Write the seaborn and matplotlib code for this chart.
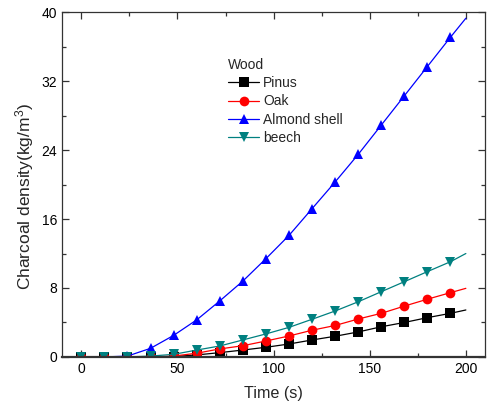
import numpy as np
import pandas as pd
import matplotlib
matplotlib.use("Agg")
import matplotlib.pyplot as plt
from matplotlib.ticker import MultipleLocator
import seaborn as sns

# Sampled times (s); the curves continue to t_end without a marker there
time_s = [0, 12, 24, 36, 48, 60, 72, 84, 96, 108, 120, 132, 144, 156, 168, 180, 192]
t_end = 200

pinus = [0, 0, 0, 0, 0.05, 0.23, 0.5, 0.8, 1.12, 1.5, 1.97, 2.4, 2.9, 3.5, 4.0, 4.56, 5.06]
oak = [0, 0, 0, 0, 0.1, 0.43, 0.93, 1.3, 1.85, 2.43, 3.1, 3.65, 4.4, 5.06, 5.9, 6.7, 7.46]
almond = [0, 0, 0.1, 1.0, 2.5, 4.3, 6.5, 8.8, 11.4, 14.1, 17.2, 20.3, 23.5, 26.9, 30.3, 33.7, 37.1]
beech = [0, 0, 0, 0.1, 0.3, 0.8, 1.27, 1.97, 2.67, 3.43, 4.37, 5.33, 6.4, 7.57, 8.73, 9.9, 11.05]
end_values = {"Pinus": 5.45, "Oak": 7.96, "Almond shell": 39.3, "beech": 12.0}

names = ["Pinus", "Oak", "Almond shell", "beech"]
series = [pinus, oak, almond, beech]
colors = ["#000000", "#ff0000", "#0000ff", "#008080"]
markers = ["s", "o", "^", "v"]

sns.set_theme(style="ticks")
plt.rcParams["font.family"] = ["Liberation Sans", "DejaVu Sans"]
plt.rcParams["mathtext.fontset"] = "custom"
plt.rcParams["mathtext.rm"] = "Liberation Sans"
plt.rcParams["mathtext.it"] = "Liberation Sans"

fig = plt.figure(figsize=(4.89, 4.07), dpi=100)
ax = fig.add_axes([0.127, 0.123, 0.865, 0.847])

for name, vals, c, m in zip(names, series, colors, markers):
    df = pd.DataFrame({"t": time_s + [t_end], "v": vals + [end_values[name]]})
    sns.lineplot(data=df, x="t", y="v", ax=ax, color=c, marker=m,
                 markevery=list(range(len(time_s))), markersize=7,
                 markeredgewidth=0, linewidth=0.9, label=name)

ax.set_xlim(-10, 210)
ax.set_ylim(0, 40)
ax.xaxis.set_major_locator(MultipleLocator(50))
ax.xaxis.set_minor_locator(MultipleLocator(25))
ax.yaxis.set_major_locator(MultipleLocator(8))
ax.yaxis.set_minor_locator(MultipleLocator(4))
ax.tick_params(which="both", direction="in", top=True, right=True,
               labelsize=10, colors="#333333", labelcolor="black")
ax.tick_params(which="major", length=5, width=0.9)
ax.tick_params(which="minor", length=3, width=0.9)
for s in ax.spines.values():
    s.set_color("#333333")
    s.set_linewidth(0.9)
ax.spines["bottom"].set_linewidth(1.6)

ax.set_xlabel("Time (s)", fontsize=11.6, labelpad=7)
ax.set_ylabel("Charcoal density(kg/m$^3$)", fontsize=12.5)
ax.yaxis.set_label_coords(-0.061, 0.464)

leg = ax.legend(title="Wood", frameon=False, loc="upper left",
                bbox_to_anchor=(0.38, 0.883), fontsize=10, title_fontsize=10,
                alignment="left", handlelength=2.2, handletextpad=0.3,
                labelspacing=0.3, borderaxespad=0)

fig.savefig("out.png", dpi=100)
